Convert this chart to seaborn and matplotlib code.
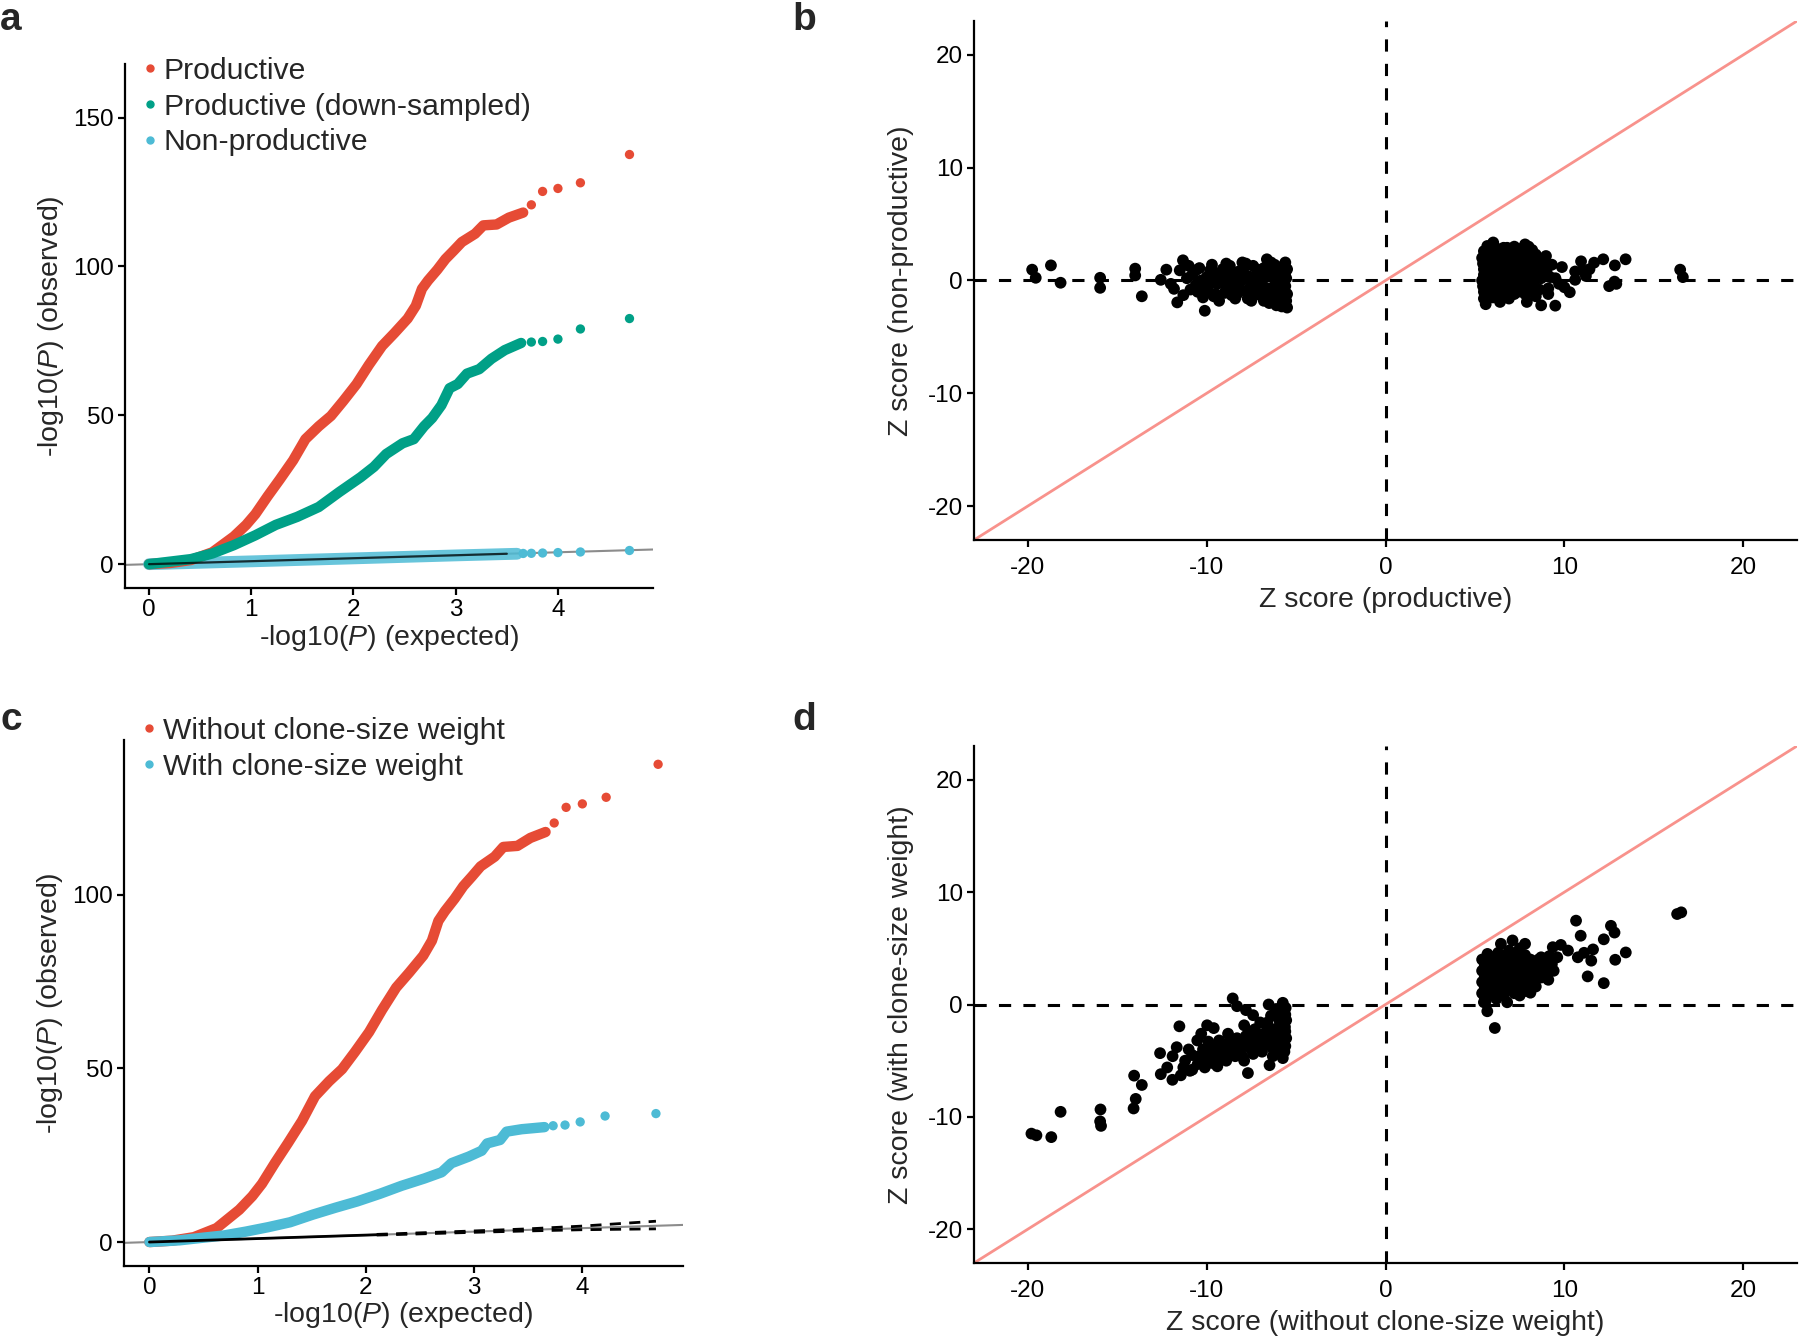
import seaborn as sns
import matplotlib.pyplot as plt
from matplotlib.lines import Line2D

RED = "#E64B35"
GREEN = "#00A087"
BLUE = "#4DBBD5"
PINK = "#F8928C"

# QQ curves: dense part read as a path, the sparse top points one by one
prod_exp = [0, 0.21, 0.41, 0.62, 0.83, 0.95, 1.04, 1.16, 1.28, 1.41, 1.53, 1.66, 1.78, 1.90,
            2.03, 2.15, 2.28, 2.40, 2.53, 2.61, 2.67, 2.73, 2.82, 2.90, 2.98, 3.06, 3.19,
            3.27, 3.40, 3.52, 3.66]
prod_obs = [0, 0.4, 1.4, 4.0, 9.3, 13.2, 16.8, 22.8, 28.5, 34.9, 42.0, 46.3, 49.8, 54.8,
            60.5, 66.9, 73.3, 77.6, 82.5, 86.8, 92.5, 95.3, 98.9, 102.5, 105.3, 108.2, 111.0,
            113.8, 114.1, 116.4, 118.1]
prod_top_exp = [3.74, 3.85, 4.00, 4.22, 4.70]
prod_top_obs = [120.7, 125.2, 126.2, 128.1, 137.6]

down_exp = [0, 0.41, 0.62, 0.83, 1.04, 1.24, 1.45, 1.66, 1.86, 2.07, 2.20, 2.32, 2.48, 2.59,
            2.69, 2.77, 2.86, 2.94, 3.02, 3.11, 3.23, 3.35, 3.48, 3.64]
down_obs = [0, 1.7, 3.6, 6.4, 9.7, 13.2, 15.9, 19.2, 24.2, 29.2, 32.7, 37.0, 40.6, 42.0,
            46.3, 49.1, 53.4, 59.1, 60.5, 64.0, 65.5, 69.0, 71.9, 74.3]
down_top_exp = [3.74, 3.85, 4.00, 4.22, 4.70]
down_top_obs = [74.6, 74.8, 75.6, 79.0, 82.5]

nonprod_exp = [0, 1.0, 2.0, 3.0, 3.6]
nonprod_obs = [0, 0.95, 1.95, 2.95, 3.5]
nonprod_top_exp = [3.66, 3.74, 3.85, 4.00, 4.22, 4.70]
nonprod_top_obs = [3.6, 3.65, 3.75, 3.9, 4.1, 4.6]

weight_exp = [0, 0.28, 0.48, 0.69, 0.89, 1.10, 1.30, 1.51, 1.72, 1.92, 2.13, 2.33, 2.54,
              2.70, 2.79, 2.95, 3.07, 3.12, 3.24, 3.30, 3.44, 3.65]
weight_obs = [0, 0.5, 1.2, 1.9, 3.0, 4.3, 5.7, 7.9, 9.9, 11.7, 13.9, 16.2, 18.3,
              20.1, 22.7, 24.6, 26.3, 28.4, 29.4, 31.8, 32.5, 33.1]
weight_top_exp = [3.73, 3.84, 3.98, 4.21, 4.68]
weight_top_obs = [33.5, 33.7, 34.6, 36.3, 37.0]

# 95% band of the null in panel c
band_exp = [2.1, 2.5, 3.0, 3.5, 4.0, 4.68]
band_hi = [2.2, 2.65, 3.2, 3.8, 4.6, 6.0]
band_lo = [2.0, 2.35, 2.8, 3.2, 3.55, 3.8]

# panel b: productive vs non-productive Z scores
b_x = [-19.75, -19.55, -18.7, -18.16, -15.95, -15.95, -13.99, -13.99, -13.62,
       -12.56, -12.25, -11.82, -11.64, -11.32, -11.5, -11.3, -12.0, -11.1,
       -10.1, -10.8, -10.6, -10.4, -10.2, -10.0, -9.9, -9.7, -9.5, -9.4, -9.3, -9.1, -9.0,
       -8.8, -8.7, -8.5, -8.4, -8.2, -8.1, -7.9, -7.8, -7.7, -7.5, -7.4, -7.3, -7.1, -7.0,
       -6.9, -6.8, -6.63, -6.6, -6.5, -6.4, -6.3, -6.2, -6.1, -6.0, -5.9, -5.8, -5.8, -5.7,
       -5.7, -5.6, -5.6, -5.5, -5.5, -5.5,
       -10.5, -9.8, -9.2, -8.9, -8.6, -8.3, -8.0, -7.6, -7.2, -6.7, -6.5, -6.3, -6.0, -5.9,
       -5.75, -5.65, -5.55, -5.6, -5.7, -6.8, -7.7, -8.9, -9.6, -10.9, -11.0,
       -10.3, -10.0, -9.8, -9.5, -9.3, -9.0, -8.8, -8.6, -8.4, -8.2, -8.0, -7.8, -7.6, -7.4,
       -7.2, -7.0, -6.8, -6.6, -6.4, -6.2, -6.0, -5.9, -5.8, -5.65, -5.55, -5.6, -6.1, -6.7,
       -7.5, -8.7, -9.7, -10.6,
       5.69, 6.02, 5.4, 5.5, 5.4, 5.5, 5.6, 5.8, 5.9, 5.8, 5.9, 5.8, 6.1, 6.2, 6.1, 6.2,
       6.4, 6.4, 6.5, 6.4, 6.5, 6.7, 6.8, 6.7, 6.8, 6.9, 7.0, 7.1, 7.0, 7.1, 7.3, 7.4, 7.3,
       7.4, 7.6, 7.7, 7.6, 7.7, 7.9, 7.9, 8.0, 8.0, 8.1, 8.3, 8.4, 8.3, 8.6, 8.7, 8.7, 8.6,
       8.97, 9.0, 9.1, 9.1, 9.49, 9.5, 9.86, 10.3, 10.6, 10.6, 10.93, 11.0, 11.2, 11.4,
       11.66, 12.17, 12.8, 12.5, 12.9, 12.82, 13.42, 16.47, 16.62, 9.7, 10.0, 9.3, 7.2,
       7.8, 8.2, 6.6, 5.5, 5.45, 5.5, 5.45,
       5.7, 5.7, 5.7, 5.7, 6.0, 6.0, 6.0, 6.0, 6.0, 6.3, 6.3, 6.3, 6.3, 6.6, 6.6, 6.6, 6.6,
       6.9, 6.9, 6.9, 7.2, 7.2, 7.2, 7.2, 7.5, 7.5, 7.5, 7.5, 7.8, 7.8, 7.8, 7.8, 8.1, 8.1,
       8.1, 8.4, 8.4, 8.4, 8.4, 8.8, 8.8, 9.2, 5.5, 5.5, 6.1, 6.8, 7.4, 8.0]
b_y = [0.96, 0.24, 1.34, -0.2, 0.24, -0.65, 1.05, 0.45, -1.4,
       0.06, 0.96, -0.74, -1.94, 1.79, 0.9, -1.3, -0.3, 0.2,
       -2.68, 0.5, -0.4, 1.1, -1.5, 0.3, -0.9, 1.4, 0.6, -0.3, -1.8, 1.0, -1.1,
       0.2, 1.3, -0.6, -1.6, 0.8, -0.1, 1.2, -1.0, 0.4, -1.8, 1.3, -0.4, 0.7, -1.3,
       0.0, 1.1, 1.88, -0.7, -2.0, 0.5, -1.5, 1.4, -0.2, 0.9, -1.0, -2.3, 0.3, 1.3,
       -1.7, -0.5, 0.7, -2.4, 1.0, -1.2,
       -1.0, -0.2, 0.3, -0.4, 0.7, -1.2, 1.6, 0.0, -0.9, 0.3, 1.0, -0.6, -1.8, 0.0,
       0.6, -0.9, 0.2, 1.6, -2.1, -1.8, -1.6, 1.5, -1.4, -0.8, 1.3,
       0.0, -0.5, 0.9, -1.2, 0.5, -0.3, 1.0, -1.3, 0.3, -0.6, 0.6, 1.5, -0.7, 0.3,
       1.0, -0.4, 0.6, -1.3, 1.6, -0.9, 0.0, 1.0, -0.8, 0.4, -1.8, 1.2, -2.2, -1.5,
       -1.3, -0.9, 0.2, 0.9,
       3.06, 3.37, 2.0, 1.0, 0.0, -1.0, -2.1, 2.5, 1.5, 0.5, -0.5, -1.5, 2.0, 1.0, 0.0, -1.0,
       -1.9, 2.6, 1.5, 0.5, -0.5, 2.2, 1.2, 0.2, -0.8, -1.6, 2.7, 1.7, 0.7, -0.3, 2.3, 1.2, 0.2,
       -1.0, 2.6, 1.6, 0.6, -0.4, -1.9, 2.0, 1.0, 0.0, -1.0, 1.8, 0.7, -0.3, 1.3, 0.2, -2.2, -0.8,
       2.17, 0.8, -0.7, -1.2, -2.23, 0.2, 1.19, -1.04, 0.8, 0.06, 1.7, 0.9, 0.4, 1.0,
       1.58, 1.88, -0.1, -0.5, -0.3, 1.34, 1.88, 0.96, 0.3, -0.3, -0.6, 1.4, 3.0,
       3.2, 2.7, 2.9, 2.6, -0.5, 0.5, 1.5,
       -1.2, 0.2, 1.2, 2.2, -1.5, -0.2, 0.8, 1.8, 2.8, -1.2, 0.3, 1.3, 2.3, -1.3, -0.1, 1.0, 2.0,
       0.5, 1.6, 2.5, -1.2, 0.1, 1.2, 2.2, -0.6, 0.4, 1.5, 2.2, -1.2, 0.4, 1.4, 2.6, -0.5, 0.6,
       1.6, -1.4, 0.2, 1.2, 2.3, 0.6, 1.6, 0.3, -1.6, 1.8, 3.0, 2.9, 2.8, 3.0]

# panel d: without vs with clone-size weight
d_x = [-19.79, -19.51, -18.68, -18.16, -15.93, -15.95, -15.9, -14.08, -13.96, -14.05, -13.62,
       -12.6, -12.56, -12.2, -11.91, -11.67, -11.44, -11.52, -11.9, -10.93, -10.52, -9.97,
       -9.6, -8.54, -8.3, -7.8, -7.4, -7.9, -7.69, -6.53, -6.48, -5.74, -5.74,
       -11.2, -10.8, -10.5, -10.2, -10.0, -9.8, -9.6, -9.4, -9.3, -9.1, -8.9, -8.8, -8.6, -8.4,
       -8.3, -8.1, -7.9, -7.8, -7.6, -7.4, -7.3, -7.1, -6.9, -6.8, -6.6, -6.5, -6.3, -6.2, -6.1,
       -6.0, -5.9, -5.85, -5.8, -5.75, -5.7, -5.65, -5.6, -5.6, -5.55, -5.55, -6.1, -6.4, -7.0,
       -10.3, -11.0,
       -10.8, -10.4, -10.1, -9.9, -9.7, -9.5, -9.2, -9.0, -8.7, -8.5, -8.2, -8.0, -7.7, -7.5,
       -7.2, -7.0, -6.7, -6.4, -6.3, -6.0, -5.95, -5.7, -5.65, -5.6, -5.58, -5.62, -5.9, -6.6,
       -7.6, -8.8, -9.9, -11.3,
       16.53, 16.3, 10.65, 10.91, 12.6, 12.8, 12.2, 13.43, 12.84, 11.6, 11.5, 11.1, 10.75, 11.3,
       12.2, 10.2, 9.8, 9.35, 7.8, 7.1, 6.45, 5.69, 6.11, 5.6, 9.1, 9.4, 8.1,
       5.4, 5.4, 5.4, 5.4, 5.7, 5.7, 5.7, 5.7, 6.0, 6.0, 6.0, 6.0, 6.3, 6.3, 6.3, 6.3, 6.6, 6.6,
       6.6, 6.6, 6.9, 6.9, 6.9, 6.9, 7.2, 7.2, 7.2, 7.2, 7.5, 7.5, 7.5, 7.5, 7.8, 7.8, 7.8, 7.8,
       8.1, 8.1, 8.1, 8.4, 8.4, 8.4, 8.7, 8.7, 8.7, 9.0, 9.0, 9.3, 9.6, 5.5, 6.2, 6.8, 7.5,
       5.55, 5.55, 5.55, 5.55, 5.85, 5.85, 5.85, 5.85, 6.15, 6.15, 6.15, 6.15, 6.45, 6.45,
       6.45, 6.45, 6.75, 6.75, 6.75, 6.75, 7.05, 7.05, 7.05, 7.35, 7.35, 7.35, 7.35, 7.65,
       7.65, 7.65, 7.95, 7.95, 7.95, 8.25, 8.25, 8.55, 8.55, 8.85, 9.15]
d_y = [-11.49, -11.64, -11.8, -9.55, -9.34, -10.4, -10.8, -9.25, -8.4, -6.33, -7.16,
       -4.33, -6.2, -5.6, -6.7, -3.8, -6.3, -1.94, -4.6, -5.9, -3.2, -1.85,
       -2.1, 0.54, -0.15, -0.5, -0.95, -1.85, -6.1, 0.0, -5.4, 0.15, -4.77,
       -5.0, -4.5, -5.3, -4.0, -5.0, -3.6, -4.6, -5.5, -3.2, -4.2, -5.0, -2.6, -3.7, -4.6,
       -3.0, -4.0, -5.0, -2.8, -3.6, -4.4, -2.2, -3.2, -4.2, -2.6, -1.6, -3.6, -4.6, -2.2, -3.2,
       -1.2, -4.0, -2.6, -0.6, -3.4, -1.8, -4.2, -2.4, -0.9, -3.0, -1.4, -0.4, -1.0, -1.6,
       -2.6, -4.0,
       -5.8, -4.6, -5.6, -4.3, -5.2, -3.9, -4.8, -3.6, -4.2, -3.2, -3.6, -4.6, -3.1, -4.0,
       -2.7, -3.7, -3.0, -2.6, -3.9, -2.2, -3.4, -2.9, -1.0, -3.7, -0.3, -2.0, -1.6, -2.2,
       -2.4, -3.4, -3.3, -5.6,
       8.2, 8.05, 7.46, 6.12, 7.0, 6.4, 5.8, 4.63, 3.98, 4.9, 3.9, 4.6, 4.2, 2.5,
       1.9, 4.8, 5.3, 5.1, 5.4, 5.7, 5.4, -0.6, -2.09, 0.3, 2.2, 3.0, 1.05,
       1.0, 2.0, 3.0, 4.0, 1.5, 2.5, 3.5, 4.5, 1.0, 2.0, 3.0, 4.0, 1.5, 2.5, 3.5, 4.6, 0.8, 2.0,
       3.0, 4.0, 1.5, 2.5, 3.5, 4.8, 1.0, 2.2, 3.2, 4.3, 1.8, 2.8, 3.8, 5.0, 1.2, 2.4, 3.4, 4.4,
       2.0, 3.0, 4.0, 1.6, 2.8, 3.8, 2.4, 3.4, 4.2, 3.0, 4.0, 3.6, 4.2, 0.2, 0.5, 0.2, 0.8,
       0.6, 1.5, 2.5, 3.5, 1.0, 2.0, 3.0, 4.0, 1.5, 2.5, 3.5, 4.3, 1.0, 2.0,
       3.0, 4.0, 1.5, 2.5, 3.5, 4.4, 2.0, 3.0, 4.0, 1.4, 2.4, 3.4, 4.5, 2.0,
       3.0, 4.0, 1.8, 2.8, 3.8, 2.4, 3.4, 3.0, 4.0, 3.6, 4.3]

sns.set_style("ticks")
plt.rcParams["font.family"] = ["Liberation Sans", "DejaVu Sans"]
plt.rcParams["mathtext.fontset"] = "custom"
plt.rcParams["mathtext.rm"] = "Liberation Sans"
plt.rcParams["mathtext.it"] = "Liberation Sans:italic"
plt.rcParams["axes.unicode_minus"] = False

W, H = 1800, 1339
fig = plt.figure(figsize=(W / 100, H / 100), dpi=100)

TICK = 17.5
TITLE = 20.5
LEG = 21.7


def box(l, t, r, b):
    return [l / W, 1 - b / H, (r - l) / W, (b - t) / H]


def style(ax, pad=3):
    sns.despine(ax=ax)
    for s in ("left", "bottom"):
        ax.spines[s].set_linewidth(1.6)
        ax.spines[s].set_color("black")
    ax.tick_params(width=1.6, length=5, labelsize=TICK, colors="black", pad=3)
    ax.tick_params(axis="x", pad=pad)


def qq_curve(ax, exp, obs, top_exp, top_obs, color, lw=7.5, alpha=1.0):
    sns.lineplot(x=exp, y=obs, ax=ax, color=color, lw=lw, sort=False, estimator=None,
                 solid_capstyle="round", alpha=alpha)
    sns.scatterplot(x=top_exp, y=top_obs, ax=ax, color=color, s=45, edgecolor="none",
                    zorder=3)


def legend(ax, labels, colors, x, y):
    handles = [Line2D([], [], ls="", marker="o", color=c, markersize=5) for c in colors]
    ax.legend(handles, labels, loc="upper left", bbox_to_anchor=(x / W, 1 - y / H),
              bbox_transform=fig.transFigure, frameon=False, fontsize=LEG, handlelength=0.6,
              handletextpad=0.15, labelspacing=0.25, borderpad=0, borderaxespad=0)


qq_xlabel = "-log10($\\mathit{P}$) (expected)"
qq_ylabel = "-log10($\\mathit{P}$) (observed)"

# a
ax = fig.add_axes(box(125, 64, 653, 588))
ax.axline((0, 0), (1, 1), color="#8c8c8c", lw=1.5, zorder=0)
qq_curve(ax, nonprod_exp, nonprod_obs, nonprod_top_exp, nonprod_top_obs, BLUE, lw=8.5, alpha=0.85)
qq_curve(ax, prod_exp, prod_obs, prod_top_exp, prod_top_obs, RED)
qq_curve(ax, down_exp, down_obs, down_top_exp, down_top_obs, GREEN)
sns.lineplot(x=[0, 3.5], y=[0, 3.5], ax=ax, color="black", lw=1.6, alpha=0.75)
ax.set_xlim(-0.235, 4.93)
ax.set_ylim(-8, 168)
ax.set_xticks([0, 1, 2, 3, 4])
ax.set_yticks([0, 50, 100, 150])
ax.set_xlabel(qq_xlabel, fontsize=TITLE, labelpad=1)
ax.set_ylabel(qq_ylabel, fontsize=TITLE, labelpad=5)
style(ax)
legend(ax, ["Productive", "Productive (down-sampled)", "Non-productive"],
       [RED, GREEN, BLUE], 141, 57)

# c
ax = fig.add_axes(box(124, 740, 683, 1266))
ax.axline((0, 0), (1, 1), color="#8c8c8c", lw=1.5, zorder=0)
qq_curve(ax, prod_exp, prod_obs, prod_top_exp, prod_top_obs, RED)
qq_curve(ax, weight_exp, weight_obs, weight_top_exp, weight_top_obs, BLUE)
sns.lineplot(x=[0, 2.1], y=[0, 2.1], ax=ax, color="black", lw=2)
sns.lineplot(x=band_exp, y=band_hi, ax=ax, color="black", lw=2, ls=(0, (4, 3)))
sns.lineplot(x=band_exp, y=band_lo, ax=ax, color="black", lw=2, ls=(0, (4, 3)))
ax.set_xlim(-0.235, 4.93)
ax.set_ylim(-6.9, 144.6)
ax.set_xticks([0, 1, 2, 3, 4])
ax.set_yticks([0, 50, 100])
ax.set_xlabel(qq_xlabel, fontsize=TITLE, labelpad=1)
ax.set_ylabel(qq_ylabel, fontsize=TITLE, labelpad=5)
style(ax)
legend(ax, ["Without clone-size weight", "With clone-size weight"], [RED, BLUE], 140, 717)


def z_panel(ax, x, y, xlabel, ylabel):
    ax.axline((0, 0), (1, 1), color=PINK, lw=2, zorder=1)
    ax.axhline(0, color="black", lw=2.2, ls=(0, (4, 4)), zorder=1)
    ax.axvline(0, color="black", lw=2.2, ls=(0, (4, 4)), zorder=1)
    sns.scatterplot(x=x, y=y, ax=ax, color="black", s=72, edgecolor="none", zorder=3)
    ax.set_xlim(-23, 23)
    ax.set_ylim(-23, 23)
    ax.set_xticks([-20, -10, 0, 10, 20])
    ax.set_yticks([-20, -10, 0, 10, 20])
    ax.set_xlabel(xlabel, fontsize=TITLE, labelpad=6)
    ax.set_ylabel(ylabel, fontsize=TITLE, labelpad=10)
    style(ax, pad=7)


z_panel(fig.add_axes(box(974, 21, 1797, 540)), b_x, b_y,
        "Z score (productive)", "Z score (non-productive)")
z_panel(fig.add_axes(box(974, 746, 1797, 1263)), d_x, d_y,
        "Z score (without clone-size weight)", "Z score (with clone-size weight)")

for lab, px, py in [("a", 0, 2), ("b", 792, 2), ("c", 0, 702), ("d", 792, 702)]:
    fig.text(px / W, 1 - py / H, lab, fontsize=28, fontweight="bold", va="top", ha="left")

fig.savefig("out.png", dpi=100)
